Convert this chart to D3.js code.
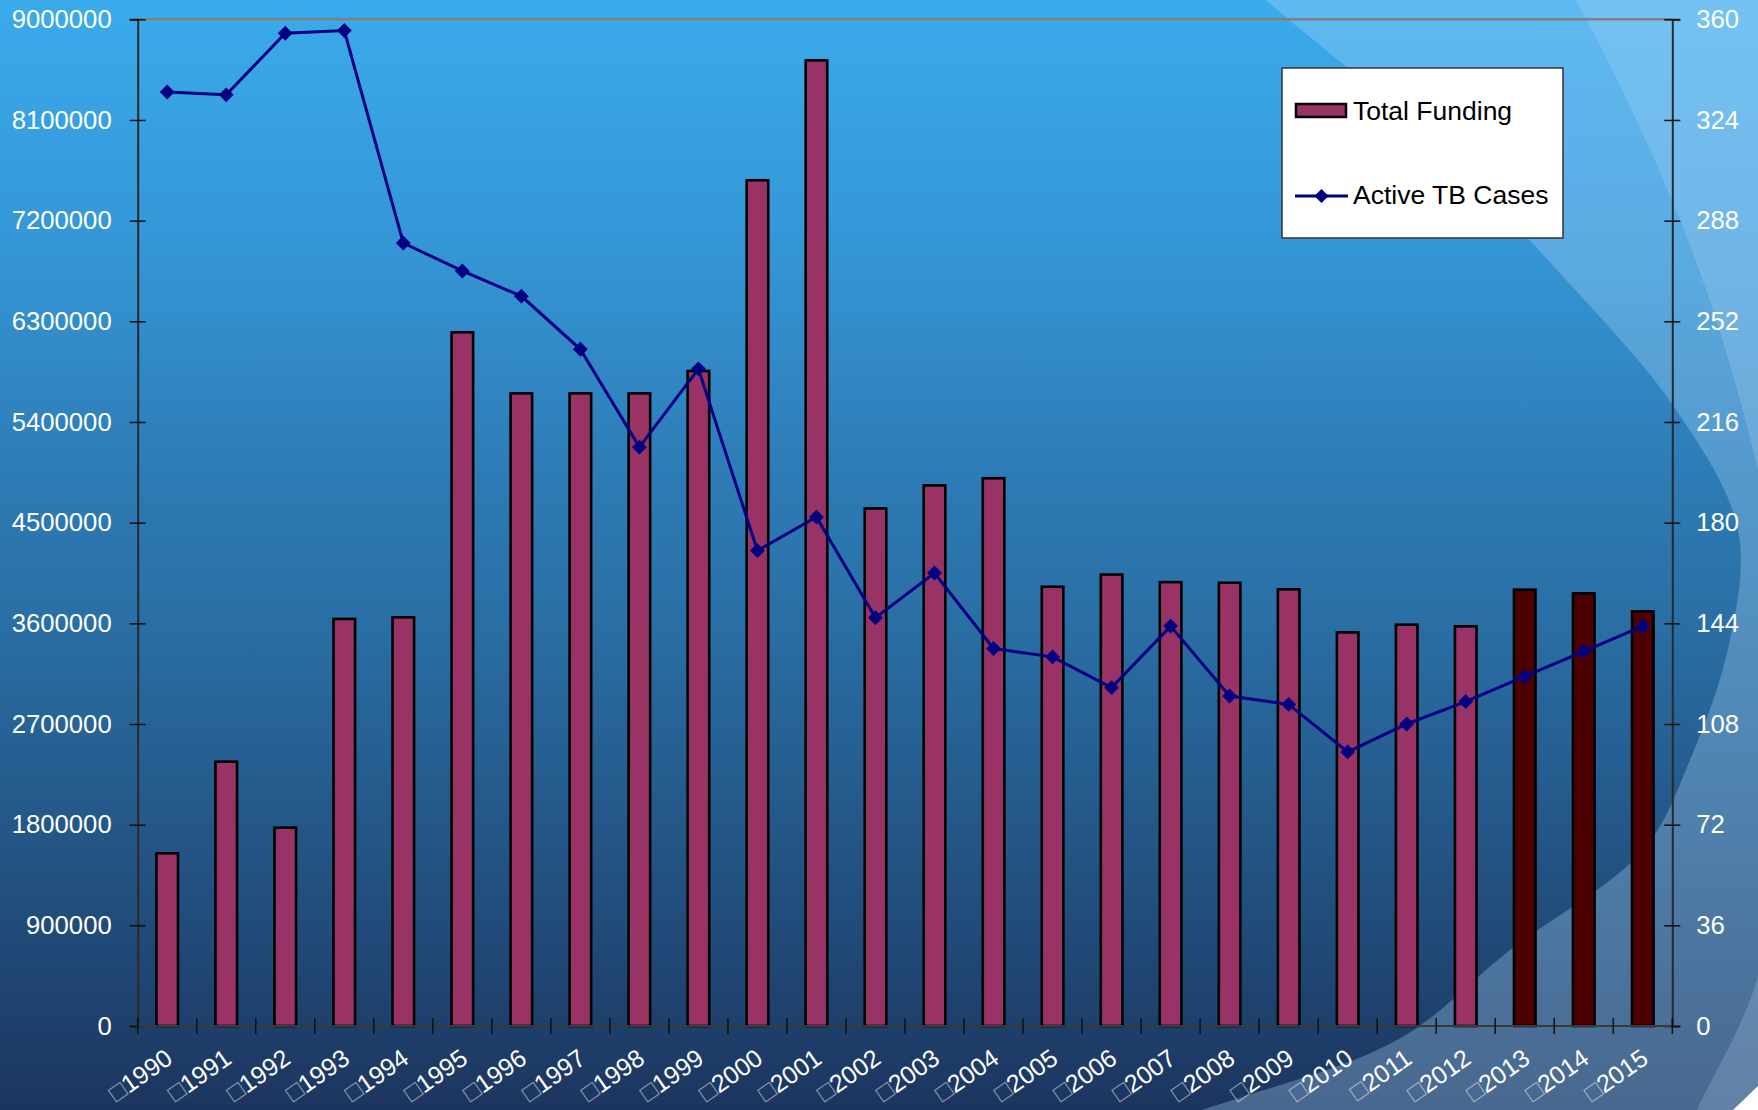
<!DOCTYPE html>
<html><head><meta charset="utf-8">
<script src="https://cdn.jsdelivr.net/npm/d3@7"></script>
<style>html,body{margin:0;padding:0;overflow:hidden;background:#1d3660}
text{font-family:"Liberation Sans",Arial,sans-serif}</style>
</head><body>
<svg id="chart" width="1758" height="1110"></svg>
<script>
// ---- data ----
const years = ["1990","1991","1992","1993","1994","1995","1996","1997","1998","1999","2000","2001","2002",
  "2003","2004","2005","2006","2007","2008","2009","2010","2011","2012","2013","2014","2015"];
const totalFunding = [1544000,2363000,1773000,3639000,3654000,6202000,5656000,5656000,5656000,5856000,
  7561000,8633000,4627000,4833000,4897000,3927000,4036000,3968000,3963000,3904000,3519000,3588000,3573000,
  3901000,3868000,3707000];
const activeTBCases = [334,333,355,356,280,270,261,242,207,235,170,182,146,162,135,132,121,143,118,115,98,108,116,125,134,143];
const projectedYears = ["2013","2014","2015"];
const leftTicks = [0,900000,1800000,2700000,3600000,4500000,5400000,6300000,7200000,8100000,9000000];
const rightTicks = [0,36,72,108,144,180,216,252,288,324,360];
const seriesNames = ["Total Funding","Active TB Cases"];

// ---- layout ----
const W = 1758, H = 1110;
const plot = {left:137.7, right:1672.3, top:19.3, bottom:1026};
const svg = d3.select("#chart");

// background
const defs = svg.append("defs");
const grad = defs.append("linearGradient").attr("id","bg").attr("x1",0).attr("y1",0).attr("x2",0).attr("y2",1);
[[0,"#3aabeb"],[0.22,"#3596d6"],[0.43,"#2d7bb5"],[0.55,"#2a70a6"],[0.8,"#22507f"],[1,"#1c355f"]]
  .forEach(([o,c])=>grad.append("stop").attr("offset",o).attr("stop-color",c));
svg.append("rect").attr("width",W).attr("height",H).attr("fill","url(#bg)");

const curve = d3.line().curve(d3.curveCatmullRom.alpha(0.5));
const arc1 = [[1225,-40],[1266,0],[1420,130],[1556,269],[1677,411],[1738,530],[1730,640],[1690,760],[1643,850],[1510,950],[1399,1039],[1236,1099],[1100,1140]];
const arc2 = [[1545,-40],[1575,0],[1677,212],[1740,400],[1775,560],[1790,760],[1758,977],[1697,1110],[1680,1150]];
svg.append("path").attr("d", curve(arc1)+"L1800,1150L1800,-40Z").attr("fill","rgb(179,221,255)").attr("fill-opacity",0.3);
svg.append("path").attr("d", curve(arc2)+"L1800,1150L1800,-40Z").attr("fill","rgb(200,230,255)").attr("fill-opacity",0.2);
svg.append("path").attr("d","M1733,1110L1758,1086L1758,1110Z").attr("fill","#ffffff");

// scales
const x = d3.scaleBand().domain(years).range([plot.left, plot.right]).paddingInner(0).paddingOuter(0);
const yL = d3.scaleLinear().domain([0,9000000]).range([plot.bottom, plot.top]);
const yR = d3.scaleLinear().domain([0,360]).range([plot.bottom, plot.top]);
const bw = x.bandwidth()*0.365;
const cx = d => x(d) + x.bandwidth()/2;

// top border
svg.append("line").attr("x1",plot.left).attr("x2",plot.right).attr("y1",plot.top).attr("y2",plot.top)
  .attr("stroke","#808080").attr("stroke-width",2.5);

// bars
svg.append("g").selectAll("rect").data(years).join("rect")
  .attr("x", d => cx(d) - bw/2)
  .attr("width", bw)
  .attr("y", (d,i) => yL(totalFunding[i]))
  .attr("height", (d,i) => yL(0) - yL(totalFunding[i]))
  .attr("fill", d => projectedYears.includes(d) ? "#4d0000" : "#993366")
  .attr("stroke","#000").attr("stroke-width",2.6);

// left axis
const gL = svg.append("g").attr("transform",`translate(${plot.left},0)`)
  .call(d3.axisLeft(yL).tickValues(leftTicks).tickFormat(d3.format("d")).tickSize(8).tickPadding(18));
gL.select(".domain").attr("stroke","#2a2a2a").attr("stroke-width",2);
gL.selectAll(".tick line").attr("x1",-8).attr("x2",8).attr("stroke","#111").attr("stroke-width",1.5);
gL.selectAll(".tick text").attr("fill","#fff").style("font-size","25.7px").style("font-family","'Liberation Sans',Arial,sans-serif");

// right axis
const gR = svg.append("g").attr("transform",`translate(${plot.right},0)`)
  .call(d3.axisRight(yR).tickValues(rightTicks).tickFormat(d3.format("d")).tickSize(8).tickPadding(16));
gR.select(".domain").attr("stroke","#2a2a2a").attr("stroke-width",2);
gR.selectAll(".tick line").attr("x1",-8).attr("x2",8).attr("stroke","#111").attr("stroke-width",1.5);
gR.selectAll(".tick text").attr("fill","#fff").style("font-size","25.7px").style("font-family","'Liberation Sans',Arial,sans-serif");

// bottom axis
svg.append("line").attr("x1",plot.left).attr("x2",plot.right).attr("y1",plot.bottom).attr("y2",plot.bottom)
  .attr("stroke","#3a3a3a").attr("stroke-width",2);
const boundaries = years.map(d => x(d)).concat([x.range()[1]]);
svg.append("g").selectAll("line").data(boundaries).join("line")
  .attr("x1",d=>d).attr("x2",d=>d).attr("y1",plot.bottom-8).attr("y2",plot.bottom+8)
  .attr("stroke","#111").attr("stroke-width",1.5);
const xl = svg.append("g").selectAll("text").data(years).join("text")
  .attr("transform", d => `translate(${cx(d)+7},${plot.bottom+36}) rotate(-35)`)
  .attr("text-anchor","end").attr("fill","#fff").style("font-size","25px");
xl.append("tspan").attr("fill-opacity",0.55).text("\u25A1");
xl.append("tspan").text(d=>d);

// line series
const pts = years.map((d,i)=>[cx(d), yR(activeTBCases[i])]);
svg.append("path").attr("d", d3.line()(pts)).attr("fill","none").attr("stroke","#000080").attr("stroke-width",3);
const diamond = d3.symbol(d3.symbolSquare, 110);
svg.append("g").selectAll("path").data(pts).join("path")
  .attr("d", diamond).attr("transform", d=>`translate(${d[0]},${d[1]}) rotate(45)`).attr("fill","#000080");

// legend
const lg = svg.append("g");
lg.append("rect").attr("x",1282).attr("y",68).attr("width",281).attr("height",170)
  .attr("fill","#fff").attr("stroke","#333").attr("stroke-width",1.5);
lg.append("rect").attr("x",1296).attr("y",104).attr("width",50).attr("height",13)
  .attr("fill","#993366").attr("stroke","#000").attr("stroke-width",2.5);
lg.append("text").attr("x",1353).attr("y",120).attr("fill","#000").style("font-size","26.5px").text(seriesNames[0]);
lg.append("line").attr("x1",1295).attr("x2",1348).attr("y1",196).attr("y2",196).attr("stroke","#000080").attr("stroke-width",3);
lg.append("path").attr("d",d3.symbol(d3.symbolSquare, 100)).attr("transform","translate(1321.5,196) rotate(45)").attr("fill","#000080");
lg.append("text").attr("x",1353).attr("y",204).attr("fill","#000").style("font-size","26.5px").text(seriesNames[1]);
</script>
</body></html>
